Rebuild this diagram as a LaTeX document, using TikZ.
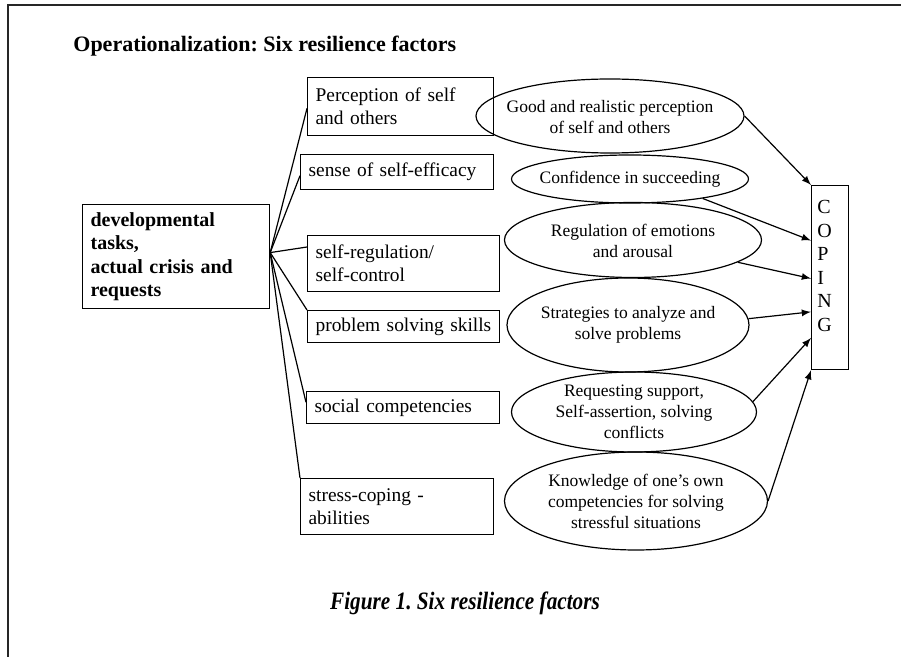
\documentclass[tikz,border=0pt]{standalone}
\usepackage{fontspec}
\setmainfont{Liberation Serif}
\usetikzlibrary{calc,shapes}
\frenchspacing

\begin{document}
\begin{tikzpicture}[x=0.5pt,y=-0.5pt,
fac/.style={rectangle,draw=black,line width=0.6pt,anchor=north west,inner xsep=4pt,inner ysep=0pt,align=left,font=\fontsize{9.7}{11.6}\selectfont},
res/.style={ellipse,draw=black,line width=0.6pt,inner sep=0pt},
reslab/.style={align=center,inner sep=0pt,font=\fontsize{8.75}{10.5}\selectfont},
link/.style={line width=0.6pt},
arr/.style={-latex,line width=0.6pt}]
	\useasboundingbox (0,0) rectangle (901,657);
	%frame
	\draw[line width=1pt,black!85] (8,657) -- (8,5) -- (901,5);
	\node[anchor=base west,inner sep=0pt,font=\bfseries\fontsize{11}{13}\selectfont] (title) at (73,52) {Operationalization: Six resilience factors};
	%tasks
	\node[fac,font=\bfseries\fontsize{10}{11.7}\selectfont,text width=85.5pt,minimum height=52pt] (dev) at (82,204) {developmental\\tasks,\\actual crisis and\\requests};
	\coordinate (fan) at ([yshift=2pt]dev.east);
	%resilience factors
	\node[fac,text width=85pt,minimum height=29pt] (b1) at (307,77) {Perception of self\\and others};
	\node[fac,text width=88.5pt,minimum height=17.5pt] (b2) at (300,154) {sense of self-efficacy};
	\node[fac,text width=88pt,minimum height=28pt] (b3) at (307,235) {self-regulation/\\self-control};
	\node[fac,text width=88pt,minimum height=16pt] (b4) at (307,310) {problem~solving~skills};
	\node[fac,text width=88.5pt,minimum height=16pt] (b5) at (306,391) {social competencies};
	\node[fac,text width=88.5pt,minimum height=28pt] (b6) at (300,478) {stress-coping -\\abilities};
	\draw[link] (fan) -- ($(b1.north west)!0.53!(b1.south west)$);
	\draw[link] (fan) -- ($(b2.north west)!0.6!(b2.south west)$);
	\draw[link] (fan) -- ($(b3.north west)!0.21!(b3.south west)$);
	\draw[link] (fan) -- (b4.north west);
	\draw[link] (fan) -- ($(b5.north west)!0.34!(b5.south west)$);
	\draw[link] (fan) -- (b6.north west);
	%skills
	\node[res,minimum width=134pt,minimum height=37pt] (e1) at (610,116) {};
	\node[reslab] (t1) at ([yshift=-0.5pt]e1) {Good and realistic perception\\of self and others};
	\node[res,minimum width=118.5pt,minimum height=24pt] (e2) at (630,179) {};
	\node[reslab] (t2) at (e2) {Confidence in succeeding};
	\node[res,minimum width=128.5pt,minimum height=37.5pt] (e3) at (633,240) {};
	\node[reslab] (t3) at ([yshift=-0.5pt]e3) {Regulation of emotions\\and arousal};
	\node[res,minimum width=121pt,minimum height=47pt] (e4) at (628,325) {};
	\node[reslab] (t4) at (e4) {Strategies to analyze and\\solve problems};
	\node[res,minimum width=122.5pt,minimum height=40pt] (e5) at (634,412) {};
	\node[reslab] (t5) at (e5) {Requesting support,\\Self-assertion, solving\\conflicts};
	\node[res,minimum width=131.5pt,minimum height=49pt] (e6) at (636,501) {};
	\node[reslab] (t6) at (e6) {Knowledge of one’s own\\competencies for solving\\stressful situations};
	%coping
	\node[rectangle,draw=black,line width=0.6pt,anchor=north west,minimum width=18.5pt,minimum height=92pt] (cop) at (811,185) {};
	\node[anchor=north west,align=left,inner sep=0pt,font=\fontsize{10}{11.75}\selectfont] (coptxt) at ([xshift=3pt,yshift=-7.5pt]cop.north west) {C\\O\\P\\I\\N\\G};
	\draw[arr] (e1.east) -- (cop.north west);
	\draw[arr] (e2.-15) -- ($(cop.north west)!0.3!(cop.south west)$);
	\draw[arr] (e3.-12) -- ($(cop.north west)!0.505!(cop.south west)$);
	\draw[arr] (e4.3) -- ($(cop.north west)!0.685!(cop.south west)$);
	\draw[arr] (e5.5) -- ($(cop.north west)!0.826!(cop.south west)$);
	\draw[arr] (e6.east) -- (cop.south west);
	%caption
	\node[anchor=base,inner sep=0pt,font=\bfseries\itshape\fontsize{12.5}{14}\selectfont] (cap) at (465,610) {\scalebox{0.85}[1]{Figure 1. Six resilience factors}};
\end{tikzpicture}
\end{document}
